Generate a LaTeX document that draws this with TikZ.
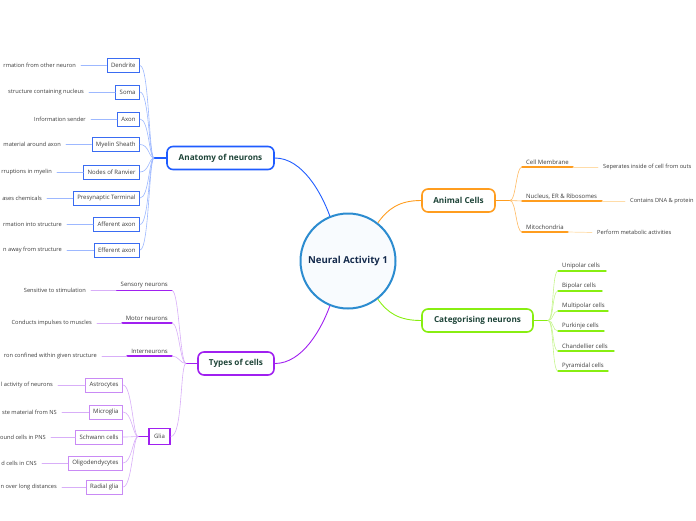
\documentclass[tikz,border=0pt]{standalone}
\usepackage{fontspec}
\setmainfont{Open Sans}
\usetikzlibrary{arrows.meta,calc,positioning}

\definecolor{centreblue}{HTML}{2C8CD0}
\definecolor{centrefill}{HTML}{F8FBFE}
\definecolor{centretext}{HTML}{142A4C}
\definecolor{topictext}{HTML}{1E4438}
\definecolor{leaftext}{HTML}{3C3C3C}
\definecolor{anatblue}{HTML}{1F5CFF}
\definecolor{anatleaf}{HTML}{3A6CF2}
\definecolor{anatlight}{HTML}{9DB8FF}
\definecolor{orangemain}{HTML}{FF9D1F}
\definecolor{orangelight}{HTML}{FFDCA8}
\definecolor{limemain}{HTML}{88EE11}
\definecolor{limelight}{HTML}{C6F58E}
\definecolor{purplemain}{HTML}{A020F0}
\definecolor{purpleleaf}{HTML}{C98AF5}
\definecolor{purplelight}{HTML}{D8AEF8}

\begin{document}
\begin{tikzpicture}[x=1pt, y=-1pt, line cap=round,
  font=\fontsize{6}{7}\selectfont,
  topic/.style={draw, line width=1.6pt, rounded corners=6pt, fill=white,
    text=topictext, font=\bfseries\fontsize{8.2}{10}\selectfont,
    minimum height=23pt, inner sep=0pt},
  leafbox/.style={draw, line width=0.9pt, fill=white, text=leaftext,
    minimum height=14pt, inner xsep=4pt, inner ysep=0pt, anchor=east},
  note/.style={text=leaftext, anchor=east, inner xsep=5pt, inner ysep=1pt,
    font=\fontsize{5.7}{7}\selectfont},
  notew/.style={note, anchor=west},
  ulabel/.style={text=leaftext, anchor=south west, inner xsep=4pt, inner ysep=2pt}]

  \useasboundingbox (0,0) rectangle (696,520);

  % central topic
  \node[circle, draw=centreblue, line width=2pt, fill=centrefill, minimum size=95pt,
        text=centretext, font=\bfseries\fontsize{9.6}{11}\selectfont]
        (centre) at (348,261) {Neural Activity 1};

  % main topics
  \node[topic, draw=anatblue, minimum width=107pt] (anat) at (220.5,158) {Anatomy of neurons};
  \node[topic, draw=orangemain, minimum width=73pt] (animal) at (458.5,200.5) {Animal Cells};
  \node[topic, draw=limemain, minimum width=111pt] (categ) at (477.5,320.5) {Categorising neurons};
  \node[topic, draw=purplemain, minimum width=76pt] (types) at (236,363.5) {Types of cells};

  % branches from the centre
  \draw[anatblue, line width=0.9pt] (centre.112) .. controls +(-8,-22) and +(28,0) .. (anat.east);
  \draw[orangemain, line width=0.9pt] (centre.52) .. controls +(10,-14) and +(-22,0) .. (animal.west);
  \draw[limemain, line width=0.9pt] (centre.-52) .. controls +(10,14) and +(-22,0) .. (categ.west);
  \draw[purplemain, line width=0.9pt] (centre.-112) .. controls +(-8,22) and +(28,0) .. (types.east);

  % anatomy of neurons: boxes with notes
  \coordinate (anat-j) at (154,158);
  \draw[anatblue, line width=1.4pt] (anat-j) -- (anat.west);
  \node[leafbox, draw=anatleaf] (dendrite) at (140,65.5) {Dendrite};
  \node[leafbox, draw=anatleaf] (soma) at (140,92) {Soma};
  \node[leafbox, draw=anatleaf] (axon) at (140,119) {Axon};
  \node[leafbox, draw=anatleaf] (myelin) at (140,144.5) {Myelin Sheath};
  \node[leafbox, draw=anatleaf] (ranvier) at (140,172) {Nodes of Ranvier};
  \node[leafbox, draw=anatleaf] (presyn) at (140,198) {Presynaptic Terminal};
  \node[leafbox, draw=anatleaf] (afferent) at (140,224.5) {Afferent axon};
  \node[leafbox, draw=anatleaf] (efferent) at (140,250) {Efferent axon};
  \node[note] (dendrite-n) at (81,65.5) {rmation from other neuron};
  \node[note] (soma-n) at (89,92) {structure containing nucleus};
  \node[note] (axon-n) at (91,119) {Information sender};
  \node[note] (myelin-n) at (66,144.5) {material around axon};
  \node[note] (ranvier-n) at (57,172) {rruptions in myelin};
  \node[note] (presyn-n) at (47,198) {ases chemicals};
  \node[note] (afferent-n) at (67,224.5) {rmation into structure};
  \node[note] (efferent-n) at (67,250) {n away from structure};
  \foreach \n in {dendrite,soma,axon,myelin,ranvier,presyn,afferent,efferent}{
    \draw[anatlight, line width=0.7pt] (\n-n.east) -- (\n.west);
    \draw[anatlight, line width=0.6pt] (\n.east) .. controls +(9,0) and +(-5,0) .. (anat-j);
  }

  % animal cells: underlined items
  \coordinate (animal-j) at (510,200.5);
  \draw[orangemain, line width=1.4pt] (animal.east) -- (animal-j);
  \coordinate (membr-l) at (522,167);   \coordinate (membr-r) at (573,167);
  \coordinate (nucl-l) at (522,201);    \coordinate (nucl-r) at (602,201);
  \coordinate (mito-l) at (522,232);    \coordinate (mito-r) at (568,232);
  \node[ulabel] (membr) at (membr-l) {Cell Membrane};
  \node[ulabel] (nucl) at (nucl-l) {Nucleus, ER \& Ribosomes};
  \node[ulabel] (mito) at (mito-l) {Mitochondria};
  \node[notew] (membr-n) at (598,167) {Seperates inside of cell from outs};
  \node[notew] (nucl-n) at (625,201) {Contains DNA \& protein};
  \node[notew] (mito-n) at (592,232.5) {Perform metabolic activities};
  \foreach \n in {membr,nucl,mito}{
    \draw[orangemain, line width=1.4pt] (\n-l) -- (\n-r);
    \draw[orangelight, line width=0.7pt] (\n-r) -- (\n-n.west);
    \draw[orangemain!70, line width=0.6pt] (animal-j) .. controls +(6,0) and +(-6,0) .. (\n-l);
  }

  % categorising neurons: underlined items
  \coordinate (categ-j) at (548,320.5);
  \draw[limemain, line width=1.4pt] (categ.east) -- (categ-j);
  \foreach \n/\t/\y/\w in {uni/Unipolar cells/271/48, bi/Bipolar cells/291/44,
      multi/Multipolar cells/311/50, purk/Purkinje cells/331/46,
      chand/Chandellier cells/351/56, pyr/Pyramidal cells/371/50}{
    \coordinate (\n-l) at (558,\y);
    \node[ulabel] (\n) at (\n-l) {\t};
    \draw[limemain, line width=1.4pt] (\n-l) -- ++(\w,0);
    \draw[limelight, line width=0.6pt] (categ-j) .. controls +(6,0) and +(-6,0) .. (\n-l);
  }

  % types of cells: underlined neurons
  \coordinate (types-j) at (186,363.5);
  \draw[purplemain, line width=1.4pt] (types-j) -- (types.west);
  \coordinate (sens-r) at (172,290.5);  \coordinate (sens-l) at (116,290.5);
  \coordinate (motor-r) at (172,323);   \coordinate (motor-l) at (122,323);
  \coordinate (inter-r) at (172,356);   \coordinate (inter-l) at (127,356);
  \node[ulabel, anchor=south east] (sens) at (sens-r) {Sensory neurons};
  \node[ulabel, anchor=south east] (motor) at (motor-r) {Motor neurons};
  \node[ulabel, anchor=south east] (inter) at (inter-r) {Interneurons};
  \node[note] (sens-n) at (91,290.5) {Sensitive to stimulation};
  \node[note] (motor-n) at (97,323) {Conducts impulses to muscles};
  \node[note] (inter-n) at (102,356) {ron confined within given structure};
  \foreach \n in {sens,motor,inter}{
    \draw[purplemain, line width=1.4pt] (\n-l) -- (\n-r);
    \draw[purplelight, line width=0.7pt] (\n-n.east) -- (\n-l);
    \draw[purplelight, line width=0.6pt] (\n-r) .. controls +(7,0) and +(-6,0) .. (types-j);
  }

  % glia
  \node[draw=purplemain, line width=1.6pt, fill=white, text=leaftext,
        minimum width=21pt, minimum height=16pt, inner sep=0pt] (glia) at (159.5,436.5) {Glia};
  \draw[purplelight, line width=0.6pt] (glia.east) .. controls +(12,0) and +(-6,0) .. (types-j);
  \coordinate (glia-j) at (138,436.5);
  \draw[purplemain, line width=1.4pt] (glia-j) -- (glia.west);
  \node[leafbox, draw=purpleleaf] (astro) at (123,385) {Astrocytes};
  \node[leafbox, draw=purpleleaf] (micro) at (123,412) {Microglia};
  \node[leafbox, draw=purpleleaf] (schwann) at (123,437) {Schwann cells};
  \node[leafbox, draw=purpleleaf] (oligo) at (123,463) {Oligodendycytes};
  \node[leafbox, draw=purpleleaf] (radial) at (123,487) {Radial glia};
  \node[note] (astro-n) at (58,385) {l activity of neurons};
  \node[note] (micro-n) at (62,412) {ste material from NS};
  \node[note] (schwann-n) at (51,437) {ound cells in PNS};
  \node[note] (oligo-n) at (42,463) {d cells in CNS};
  \node[note] (radial-n) at (62,487) {n over long distances};
  \foreach \n in {astro,micro,schwann,oligo,radial}{
    \draw[purplelight, line width=0.7pt] (\n-n.east) -- (\n.west);
    \draw[purplelight, line width=0.6pt] (\n.east) .. controls +(9,0) and +(-5,0) .. (glia-j);
  }
\end{tikzpicture}
\end{document}
